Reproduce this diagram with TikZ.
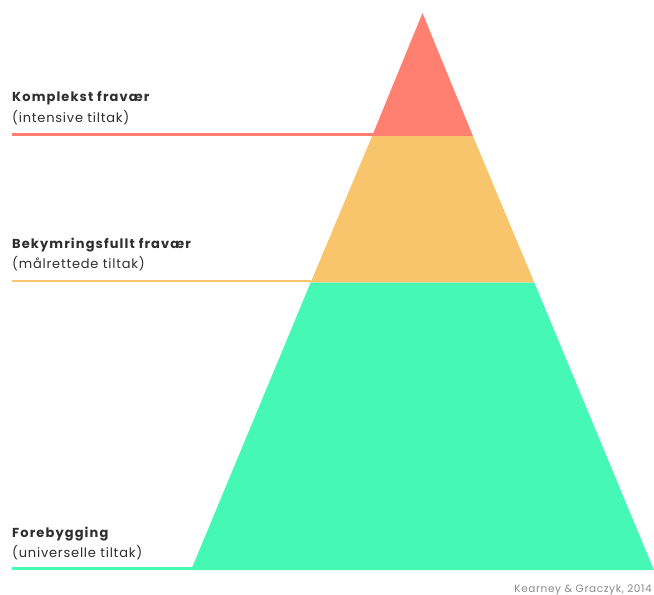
\documentclass[tikz,border=0pt]{standalone}
\usepackage{fontspec}
\setmainfont{Poppins}[LetterSpace=6,BoldFeatures={LetterSpace=8.5}]
\definecolor{redband}{HTML}{FF8070}
\definecolor{orangeband}{HTML}{F8C56C}
\definecolor{greenband}{HTML}{46F8B6}
\definecolor{textdark}{HTML}{2E2E2E}
\definecolor{credit}{HTML}{8A8A8A}
\begin{document}
\begin{tikzpicture}[x=1pt,y=-1pt,
  head/.style={anchor=base west,inner sep=0pt,font=\fontsize{13}{15}\selectfont\bfseries,text=textdark},
  sub/.style={anchor=base west,inner sep=0pt,font=\fontsize{13}{15}\selectfont,text=textdark},
  leader/.style={line width=2.4pt}]
\useasboundingbox (0,0) rectangle (654,595);
% pyramid geometry
\coordinate (apex) at (422.5,13);
\coordinate (l1) at (372.1,136);
\coordinate (r1) at (472.9,136);
\coordinate (l2) at (310.7,282.5);
\coordinate (r2) at (534.3,282.5);
\coordinate (l3) at (191.1,570);
\coordinate (r3) at (653.9,570);
\fill[redband] (apex) -- (r1) -- (l1) -- cycle;
\fill[orangeband] (l1) -- (r1) -- (r2) -- (l2) -- cycle;
\fill[greenband] (l2) -- (r2) -- (r3) -- (l3) -- cycle;
% leader end points on the pyramid's left edge
\coordinate (e1) at (372.7,134.6);
\coordinate (e2) at (311.3,281.2);
\coordinate (e3) at (191.7,568.6);
\coordinate (s1) at (12,134.6);
\coordinate (s2) at (12,281.2);
\coordinate (s3) at (12,568.6);
\draw[leader,redband] (s1) -- (e1);
\draw[leader,orangeband] (s2) -- (e2);
\draw[leader,greenband] (s3) -- (e3);
% labels
\node[head] (h1) at (12,101.5) {Komplekst fravær};
\node[sub] (t1) at (12,122) {(intensive tiltak)};
\node[head] (h2) at (12,248) {Bekymringsfullt fravær};
\node[sub] (t2) at (12,268.5) {(målrettede tiltak)};
\node[head] (h3) at (12,537) {Forebygging};
\node[sub] (t3) at (12,557.5) {(universelle tiltak)};
\node[anchor=base east,inner sep=0pt,font=\fontsize{10.5}{12}\selectfont,text=credit] (src) at (652,592) {Kearney \& Graczyk, 2014};
\end{tikzpicture}
\end{document}
